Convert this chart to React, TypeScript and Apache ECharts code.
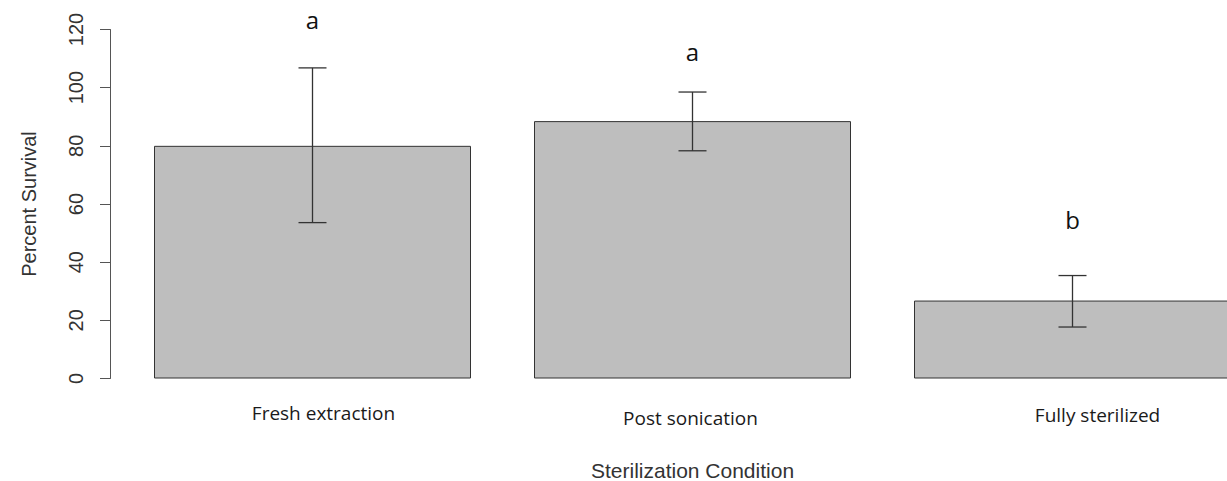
import React, { useEffect, useRef } from "react";
import * as echarts from "echarts";

const categories = ["Fresh extraction", "Post sonication", "Fully sterilized"];
const survival = [80, 88.5, 26.8];
const errorHigh = [106.8, 98.5, 35.4];
const errorLow = [53.6, 78.3, 17.7];
const letters = ["a", "a", "b"];
const letterY = [123.5, 112.5, 54.5];
const yTicks = [0, 20, 40, 60, 80, 100, 120];
const labelShift = [0, 5, 2];
const labelShiftX = [11, -2, 25];

export default function App() {
  const ref = useRef<HTMLDivElement>(null);
  useEffect(() => {
    if (!ref.current) return;
    const chart = echarts.init(ref.current, undefined, { renderer: "svg" });
    const rich: Record<string, any> = {};
    categories.forEach((_, i) => {
      const sx = labelShiftX[i];
      rich["c" + i] = {
        fontFamily: "Open Sans",
        fontSize: 19,
        color: "#1a1a1a",
        padding: [labelShift[i], sx < 0 ? -2 * sx : 0, 0, sx > 0 ? 2 * sx : 0],
      };
    });
    chart.setOption({
      animation: false,
      backgroundColor: "#ffffff",
      grid: {
        left: 122.5,
        width: 1140,
        top: 29.5,
        bottom: 102.5,
        outerBoundsMode: "none",
        containLabel: false,
      },
      xAxis: {
        type: "category",
        data: categories,
        axisLine: { show: false },
        axisTick: { show: false },
        axisLabel: {
          margin: 25,
          interval: 0,
          formatter: (v: string) => "{c" + categories.indexOf(v) + "|" + v + "}",
          rich,
        },
        name: "Sterilization Condition",
        nameLocation: "middle",
        nameGap: 81,
        nameTextStyle: { fontFamily: "Liberation Sans", fontSize: 21, color: "#333" },
      },
      yAxis: {
        type: "value",
        min: yTicks[0],
        max: yTicks[yTicks.length - 1],
        interval: 20,
        offset: 12.5,
        splitLine: { show: false },
        axisLine: { show: true, lineStyle: { color: "#555", width: 1 } },
        axisTick: { show: true, length: 10, lineStyle: { color: "#555" } },
        axisLabel: {
          rotate: 90,
          margin: 24,
          fontFamily: "Liberation Sans",
          fontSize: 20,
          color: "#333",
        },
        name: "Percent Survival",
        nameLocation: "middle",
        nameRotate: 90,
        nameGap: 71,
        nameTextStyle: { fontFamily: "Liberation Sans", fontSize: 20, color: "#333" },
      },
      series: [
        {
          type: "bar",
          data: survival,
          barWidth: 317,
          itemStyle: { color: "#bebebe", borderColor: "#333", borderWidth: 1 },
        },
        {
          type: "custom",
          clip: false,
          data: categories.map((_, i) => [i, errorLow[i], errorHigh[i]]),
          renderItem: (params: any, api: any) => {
            const i = api.value(0);
            const lo = api.coord([i, api.value(1)]);
            const hi = api.coord([i, api.value(2)]);
            const cap = 14;
            const style = { stroke: "#333", lineWidth: 1.3 };
            return {
              type: "group",
              children: [
                { type: "line", shape: { x1: hi[0], y1: hi[1], x2: lo[0], y2: lo[1] }, style },
                { type: "line", shape: { x1: hi[0] - cap, y1: hi[1], x2: hi[0] + cap, y2: hi[1] }, style },
                { type: "line", shape: { x1: lo[0] - cap, y1: lo[1], x2: lo[0] + cap, y2: lo[1] }, style },
              ],
            };
          },
          z: 5,
        },
        {
          type: "custom",
          clip: false,
          data: categories.map((_, i) => [i, letterY[i]]),
          renderItem: (params: any, api: any) => {
            const i = api.value(0);
            const p = api.coord([i, api.value(1)]);
            return {
              type: "text",
              x: p[0],
              y: p[1],
              style: {
                text: letters[params.dataIndex],
                fontFamily: "Open Sans",
                fontSize: 24,
                fill: "#111",
                align: "center",
                verticalAlign: "middle",
              },
            };
          },
          z: 6,
        },
      ],
    });
    return () => chart.dispose();
  }, []);
  return (
    <div
      ref={ref}
      style={{ position: "fixed", left: 0, top: 0, width: 1227, height: 481 }}
    />
  );
}
